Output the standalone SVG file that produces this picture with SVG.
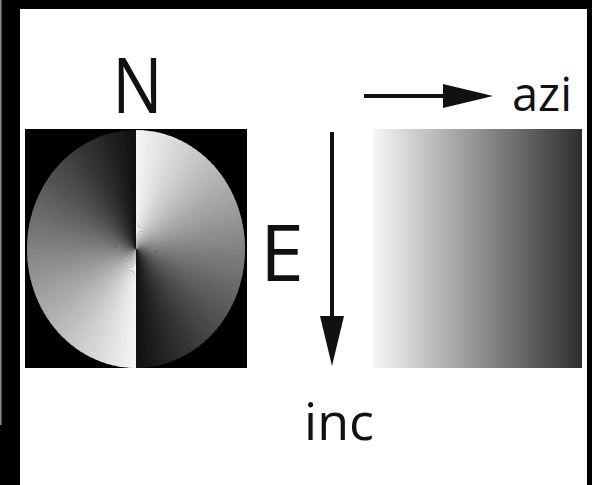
<svg xmlns="http://www.w3.org/2000/svg" xmlns:xlink="http://www.w3.org/1999/xlink" width="592" height="485" viewBox="0 0 592 485">
<style>
.lbl{font-family:"Open Sans","Noto Sans","DejaVu Sans",sans-serif;fill:#111;text-anchor:middle}
.arrow{stroke:#111;stroke-width:4;fill:none;marker-end:url(#head)}
</style>
<defs>
<marker id="head" viewBox="0 0 50 24" markerWidth="50" markerHeight="24" refX="0" refY="12" orient="auto" markerUnits="userSpaceOnUse">
<path d="M0,0 L50,12 L0,24 Z" fill="#111"/>
</marker>
<linearGradient id="ramp-grad" x1="0" y1="0" x2="1" y2="0">
<stop offset="0" stop-color="#f6f6f6"/>
<stop offset="1" stop-color="#2e2e2e"/>
</linearGradient>
<path id="w4" d="M0,0 L0,-1 A1,1 0 0 1 0.069756,-0.997564 Z"/>
<path id="w3" d="M0,0 L0,-1 A1,1 0 0 1 0.052336,-0.998630 Z"/>
<g id="half">
<use xlink:href="#w4" transform="rotate(0)" fill="#f3f3f3"/>
<use xlink:href="#w4" transform="rotate(3)" fill="#efefef"/>
<use xlink:href="#w4" transform="rotate(6)" fill="#ebebeb"/>
<use xlink:href="#w4" transform="rotate(9)" fill="#e8e8e8"/>
<use xlink:href="#w4" transform="rotate(12)" fill="#e4e4e4"/>
<use xlink:href="#w4" transform="rotate(15)" fill="#e0e0e0"/>
<use xlink:href="#w4" transform="rotate(18)" fill="#dcdcdc"/>
<use xlink:href="#w4" transform="rotate(21)" fill="#d8d8d8"/>
<use xlink:href="#w4" transform="rotate(24)" fill="#d4d4d4"/>
<use xlink:href="#w4" transform="rotate(27)" fill="#d1d1d1"/>
<use xlink:href="#w4" transform="rotate(30)" fill="#cdcdcd"/>
<use xlink:href="#w4" transform="rotate(33)" fill="#c9c9c9"/>
<use xlink:href="#w4" transform="rotate(36)" fill="#c5c5c5"/>
<use xlink:href="#w4" transform="rotate(39)" fill="#c1c1c1"/>
<use xlink:href="#w4" transform="rotate(42)" fill="#bdbdbd"/>
<use xlink:href="#w4" transform="rotate(45)" fill="#bababa"/>
<use xlink:href="#w4" transform="rotate(48)" fill="#b6b6b6"/>
<use xlink:href="#w4" transform="rotate(51)" fill="#b2b2b2"/>
<use xlink:href="#w4" transform="rotate(54)" fill="#aeaeae"/>
<use xlink:href="#w4" transform="rotate(57)" fill="#aaaaaa"/>
<use xlink:href="#w4" transform="rotate(60)" fill="#a6a6a6"/>
<use xlink:href="#w4" transform="rotate(63)" fill="#a3a3a3"/>
<use xlink:href="#w4" transform="rotate(66)" fill="#9f9f9f"/>
<use xlink:href="#w4" transform="rotate(69)" fill="#9b9b9b"/>
<use xlink:href="#w4" transform="rotate(72)" fill="#979797"/>
<use xlink:href="#w4" transform="rotate(75)" fill="#939393"/>
<use xlink:href="#w4" transform="rotate(78)" fill="#8f8f8f"/>
<use xlink:href="#w4" transform="rotate(81)" fill="#8c8c8c"/>
<use xlink:href="#w4" transform="rotate(84)" fill="#888888"/>
<use xlink:href="#w4" transform="rotate(87)" fill="#848484"/>
<use xlink:href="#w4" transform="rotate(90)" fill="#808080"/>
<use xlink:href="#w4" transform="rotate(93)" fill="#7c7c7c"/>
<use xlink:href="#w4" transform="rotate(96)" fill="#787878"/>
<use xlink:href="#w4" transform="rotate(99)" fill="#757575"/>
<use xlink:href="#w4" transform="rotate(102)" fill="#717171"/>
<use xlink:href="#w4" transform="rotate(105)" fill="#6d6d6d"/>
<use xlink:href="#w4" transform="rotate(108)" fill="#696969"/>
<use xlink:href="#w4" transform="rotate(111)" fill="#656565"/>
<use xlink:href="#w4" transform="rotate(114)" fill="#616161"/>
<use xlink:href="#w4" transform="rotate(117)" fill="#5e5e5e"/>
<use xlink:href="#w4" transform="rotate(120)" fill="#5a5a5a"/>
<use xlink:href="#w4" transform="rotate(123)" fill="#565656"/>
<use xlink:href="#w4" transform="rotate(126)" fill="#525252"/>
<use xlink:href="#w4" transform="rotate(129)" fill="#4e4e4e"/>
<use xlink:href="#w4" transform="rotate(132)" fill="#4a4a4a"/>
<use xlink:href="#w4" transform="rotate(135)" fill="#474747"/>
<use xlink:href="#w4" transform="rotate(138)" fill="#434343"/>
<use xlink:href="#w4" transform="rotate(141)" fill="#3f3f3f"/>
<use xlink:href="#w4" transform="rotate(144)" fill="#3b3b3b"/>
<use xlink:href="#w4" transform="rotate(147)" fill="#373737"/>
<use xlink:href="#w4" transform="rotate(150)" fill="#333333"/>
<use xlink:href="#w4" transform="rotate(153)" fill="#303030"/>
<use xlink:href="#w4" transform="rotate(156)" fill="#2c2c2c"/>
<use xlink:href="#w4" transform="rotate(159)" fill="#282828"/>
<use xlink:href="#w4" transform="rotate(162)" fill="#242424"/>
<use xlink:href="#w4" transform="rotate(165)" fill="#202020"/>
<use xlink:href="#w4" transform="rotate(168)" fill="#1c1c1c"/>
<use xlink:href="#w4" transform="rotate(171)" fill="#191919"/>
<use xlink:href="#w4" transform="rotate(174)" fill="#151515"/>
<use xlink:href="#w3" transform="rotate(177)" fill="#111111"/>
</g>
</defs>
<rect width="592" height="485" fill="#fff"/>
<g id="frame">
<rect x="0" y="0" width="592" height="9" fill="#000"/>
<rect x="0" y="0" width="20" height="485" fill="#000"/>
<rect x="587" y="0" width="5" height="485" fill="#000"/>
<rect x="0" y="0" width="1.5" height="425" fill="#8a8a8a"/>
</g>
<g id="compass">
<rect x="25" y="129" width="222" height="239" fill="#000"/>
<g transform="translate(136,249) scale(109,119)">
<use xlink:href="#half"/>
<use xlink:href="#half" transform="rotate(180)"/>
</g>
</g>
<g id="ramp">
<rect x="373" y="129" width="209" height="239" fill="url(#ramp-grad)"/>
</g>
<g id="label-N"><text class="lbl" transform="translate(137.5,113) scale(0.88,1)" font-size="76">N</text></g>
<g id="label-E"><text class="lbl" x="282" y="281" font-size="79">E</text></g>
<g id="label-azi"><text class="lbl" x="542" y="111" font-size="47">azi</text></g>
<g id="label-inc"><text class="lbl" x="339" y="440" font-size="52">inc</text></g>
<g id="connectors">
<line class="arrow" x1="364" y1="96" x2="443" y2="96"/>
<line class="arrow" x1="332" y1="132" x2="332" y2="316"/>
</g>
</svg>
